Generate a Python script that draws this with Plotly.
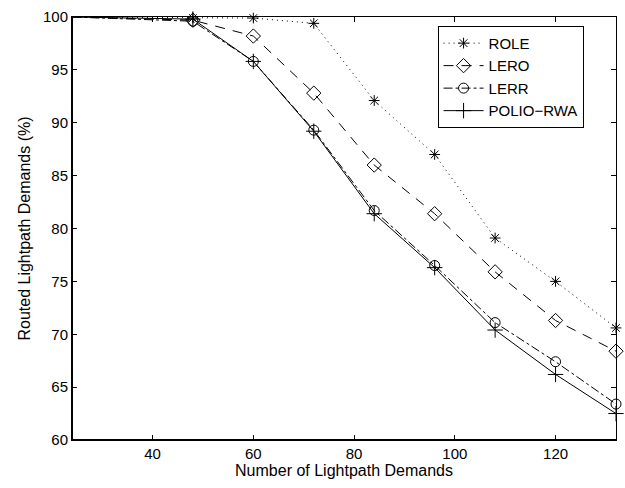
import plotly.graph_objects as go

x_vals = [24, 48, 60, 72, 84, 96, 108, 120, 132]
role = [100.0, 99.9, 99.9, 99.4, 92.1, 87.0, 79.1, 75.0, 70.6]
lero = [100.0, 99.7, 98.2, 92.8, 86.0, 81.4, 75.9, 71.3, 68.4]
lerr = [100.0, 99.6, 95.8, 89.3, 81.7, 76.5, 71.1, 67.4, 63.4]
polio = [100.0, 99.8, 95.8, 89.2, 81.4, 76.3, 70.4, 66.2, 62.5]

series = [
    ("ROLE", role, "1px,4px", "asterisk-open", 9),
    ("LERO", lero, "10px,8px", "diamond-open", 11),
    ("LERR", lerr, "dashdot", "circle-open", 10),
    ("POLIO\u2212RWA", polio, "solid", "cross-thin-open", 11),
]

fig = go.Figure()
for name, ys, dash, sym, sz in series:
    fig.add_trace(go.Scatter(
        x=x_vals, y=ys, mode="lines", name=name, showlegend=False,
        line=dict(color="black", width=1, dash=dash), cliponaxis=True))
    fig.add_trace(go.Scatter(
        x=x_vals[1:], y=ys[1:], mode="markers", name=name, showlegend=False,
        marker=dict(symbol=sym, size=sz, color="black", line=dict(color="black", width=1)),
        cliponaxis=False))

for name, ys, dash, sym, sz in series:
    fig.add_trace(go.Scatter(
        x=[None], y=[None], mode="lines+markers", name=name,
        line=dict(color="black", width=1, dash=dash),
        marker=dict(symbol=sym, size=sz, color="black", line=dict(color="black", width=1))))

fam = "Liberation Sans, Arial, Helvetica, sans-serif"
tick_font = dict(family=fam, size=15, color="black")
title_font = dict(family=fam, size=16, color="black")
legend_font = dict(family=fam, size=15, color="black")

fig.update_layout(
    width=625, height=488,
    margin=dict(l=72, r=8, t=14, b=48),
    paper_bgcolor="white", plot_bgcolor="white",
    font=tick_font,
    showlegend=True,
    legend=dict(x=0.672, y=0.979, xanchor="left", yanchor="top",
                bordercolor="black", borderwidth=1, bgcolor="white",
                font=legend_font, tracegroupgap=0, itemwidth=40),
    xaxis=dict(range=[24, 132], tickvals=[40, 60, 80, 100, 120],
               ticks="inside", ticklen=5, tickcolor="black", tickfont=tick_font,
               showline=True, linecolor="black", linewidth=1, mirror="ticks",
               showgrid=False, zeroline=False,
               title=dict(text="Number of Lightpath Demands", standoff=1, font=title_font)),
    yaxis=dict(range=[60, 100], tickvals=[60, 65, 70, 75, 80, 85, 90, 95, 100],
               ticks="inside", ticklen=5, tickcolor="black", tickfont=tick_font,
               showline=True, linecolor="black", linewidth=1, mirror="ticks",
               showgrid=False, zeroline=False,
               title=dict(text="Routed Lightpath Demands (%)", standoff=8, font=title_font)),
    shapes=[
        dict(type="line", xref="paper", yref="paper", x0=0, x1=1, y0=0, y1=0,
             line=dict(color="black", width=2)),
        dict(type="line", xref="paper", yref="paper", x0=0, x1=0, y0=0, y1=1,
             line=dict(color="black", width=2)),
    ],
)

fig.write_html("out.html")
